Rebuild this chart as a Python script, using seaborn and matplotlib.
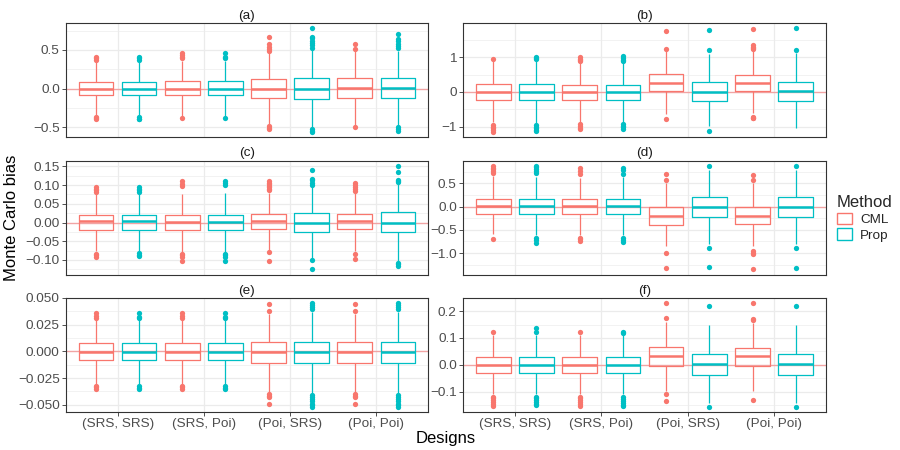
import numpy as np
import pandas as pd
import matplotlib
matplotlib.use("Agg")
import matplotlib.pyplot as plt
from matplotlib.patches import Patch
import seaborn as sns

# Categories
designs = ["(SRS, SRS)", "(SRS, Poi)", "(Poi, SRS)", "(Poi, Poi)"]
methods = ["CML", "Prop"]
panels = ["a", "b", "c", "d", "e", "f"]
colors = {"CML": "#F8766D", "Prop": "#00BFC4"}

# Box statistics, order: design x method
# (SRS,SRS) CML, (SRS,SRS) Prop, (SRS,Poi) CML, ... (Poi,Poi) Prop
q1 = {
    "a": [-0.09, -0.09, -0.09, -0.09, -0.12, -0.13, -0.12, -0.12],
    "b": [-0.23, -0.23, -0.23, -0.23, 0.04, -0.27, 0.02, -0.27],
    "c": [-0.020, -0.020, -0.020, -0.020, -0.018, -0.024, -0.018, -0.026],
    "d": [-0.164, -0.164, -0.164, -0.164, -0.386, -0.229, -0.37, -0.229],
    "e": [-0.0083, -0.0083, -0.0083, -0.0083, -0.0108, -0.0108, -0.0108, -0.0108],
    "f": [-0.028, -0.028, -0.028, -0.028, -0.0025, -0.036, -0.0025, -0.036],
}
med = {
    "a": [0.0, 0.0, 0.0, 0.0, 0.0, -0.005, 0.01, 0.01],
    "b": [0.0, 0.0, 0.0, 0.0, 0.27, 0.01, 0.27, 0.02],
    "c": [0.0035, 0.0035, 0.001, 0.001, 0.0035, 0.0, 0.0035, -0.001],
    "d": [0.007, 0.007, 0.007, 0.007, -0.193, -0.007, -0.193, -0.007],
    "e": [-0.0003, -0.0006, -0.0003, -0.0006, -0.0009, -0.0006, -0.0009, -0.0006],
    "f": [0.0, -0.001, 0.0, -0.001, 0.033, 0.0025, 0.033, 0.0025],
}
q3 = {
    "a": [0.09, 0.09, 0.10, 0.10, 0.12, 0.13, 0.13, 0.13],
    "b": [0.23, 0.23, 0.21, 0.21, 0.52, 0.29, 0.50, 0.29],
    "c": [0.019, 0.019, 0.021, 0.021, 0.022, 0.0245, 0.022, 0.027],
    "d": [0.164, 0.164, 0.164, 0.164, -0.007, 0.207, 0.0, 0.207],
    "e": [0.0074, 0.0074, 0.0074, 0.0074, 0.0083, 0.009, 0.0083, 0.009],
    "f": [0.0295, 0.0295, 0.0295, 0.0295, 0.066, 0.042, 0.064, 0.042],
}
whisker_lo = {
    "a": [-0.34, -0.34, -0.35, -0.35, -0.46, -0.51, -0.47, -0.47],
    "b": [-0.88, -0.90, -0.87, -0.87, -0.64, -0.98, -0.62, -1.05],
    "c": [-0.076, -0.076, -0.079, -0.079, -0.074, -0.094, -0.076, -0.103],
    "d": [-0.60, -0.62, -0.62, -0.62, -0.85, -0.80, -0.85, -0.80],
    "e": [-0.031, -0.031, -0.031, -0.031, -0.038, -0.039, -0.038, -0.039],
    "f": [-0.108, -0.108, -0.108, -0.108, -0.095, -0.14, -0.098, -0.14],
}
whisker_hi = {
    "a": [0.35, 0.35, 0.35, 0.35, 0.47, 0.51, 0.49, 0.49],
    "b": [0.88, 0.90, 0.85, 0.85, 1.20, 1.10, 1.18, 1.12],
    "c": [0.076, 0.076, 0.077, 0.080, 0.080, 0.095, 0.080, 0.104],
    "d": [0.65, 0.64, 0.62, 0.64, 0.50, 0.78, 0.50, 0.78],
    "e": [0.030, 0.030, 0.030, 0.030, 0.035, 0.037, 0.035, 0.037],
    "f": [0.110, 0.112, 0.110, 0.112, 0.160, 0.150, 0.155, 0.150],
}
outliers = {
    "a": [[0.37, 0.39, 0.41, -0.37, -0.38, -0.40],
          [0.37, 0.39, 0.41, -0.37, -0.39, -0.40],
          [0.39, 0.41, 0.43, 0.46, -0.38],
          [0.39, 0.41, 0.46, -0.38],
          [0.49, 0.51, 0.54, 0.57, 0.66, -0.49, -0.51, -0.52],
          [0.53, 0.56, 0.59, 0.62, 0.65, 0.67, 0.78, -0.53, -0.55, -0.56],
          [0.51, 0.58, -0.50],
          [0.52, 0.55, 0.58, 0.61, 0.64, 0.70, -0.50, -0.52, -0.55]],
    "b": [[0.94, -0.94, -1.0, -1.05, -1.1, -1.15],
          [0.94, 0.97, 1.0, -0.94, -1.0, -1.05, -1.1, -1.14],
          [0.88, 0.92, 0.96, 1.0, -0.93, -0.98, -1.03, -1.07],
          [0.88, 0.93, 0.98, 1.03, -0.92, -0.97, -1.02, -1.08],
          [1.25, 1.76, -0.79],
          [1.20, 1.79, -1.12],
          [1.23, 1.27, 1.31, 1.36, 1.82, -0.71, -0.74, -0.76],
          [1.20, 1.84]],
    "c": [[0.082, 0.086, 0.090, 0.095, -0.083, -0.087, -0.091],
          [0.082, 0.086, 0.091, 0.096, -0.082, -0.086, -0.090],
          [0.099, 0.104, 0.110, -0.084, -0.088, -0.093, -0.104],
          [0.100, 0.105, 0.110, -0.083, -0.087, -0.092, -0.104],
          [0.086, 0.090, 0.094, 0.098, 0.102, 0.107, 0.110, -0.080, -0.103],
          [0.101, 0.106, 0.113, 0.117, 0.140, -0.100, -0.125],
          [0.084, 0.090, 0.095, 0.100, 0.105, -0.083, -0.097],
          [0.108, 0.112, 0.115, 0.134, 0.152, -0.109, -0.112, -0.116]],
    "d": [[0.72, 0.76, 0.80, 0.84, 0.88, -0.69],
          [0.72, 0.76, 0.81, 0.86, 0.88, -0.68, -0.72, -0.78],
          [0.71, 0.76, 0.82, -0.67, -0.70, -0.74],
          [0.71, 0.78, 0.83, -0.68, -0.72, -0.76],
          [0.57, 0.70, -0.99, -1.33],
          [0.88, -0.89, -1.31],
          [0.58, 0.69, -0.96, -0.99, -1.01, -1.35],
          [0.87, -0.89, -1.32]],
    "e": [[0.0315, 0.033, 0.0355, -0.0325, -0.0335, -0.035],
          [0.0315, 0.0325, 0.036, -0.0325, -0.034, -0.0355],
          [0.0315, 0.033, 0.0355, -0.0325, -0.0335, -0.035],
          [0.0315, 0.0325, 0.036, -0.0325, -0.034, -0.0355],
          [0.0375, 0.044, -0.040, -0.0415, -0.043, -0.049],
          [0.0395, 0.042, 0.0435, 0.045, -0.041, -0.043, -0.045, -0.047, -0.049, -0.0505, -0.052],
          [0.0375, 0.044, -0.040, -0.0415, -0.043, -0.049],
          [0.0395, 0.042, 0.0435, 0.045, -0.041, -0.043, -0.045, -0.047, -0.049, -0.0505, -0.052]],
    "f": [[0.122, -0.117, -0.123, -0.130, -0.137, -0.145, -0.153],
          [0.122, 0.138, -0.117, -0.123, -0.130, -0.137, -0.145, -0.150],
          [0.122, -0.117, -0.123, -0.130, -0.137, -0.145, -0.153],
          [0.120, 0.123, -0.117, -0.125, -0.133, -0.140, -0.147, -0.153],
          [0.175, 0.228, -0.108, -0.133],
          [0.220, -0.155],
          [0.166, 0.170, 0.229, -0.130],
          [0.220, -0.155]],
}

# Tick values and labels per panel
yticks = {
    "a": [-0.5, 0.0, 0.5],
    "b": [-1, 0, 1],
    "c": [-0.10, -0.05, 0.00, 0.05, 0.10, 0.15],
    "d": [-1.0, -0.5, 0.0, 0.5],
    "e": [-0.050, -0.025, 0.000, 0.025, 0.050],
    "f": [-0.1, 0.0, 0.1, 0.2],
}
ylabels = {
    "a": ["\u22120.5", "0.0", "0.5"],
    "b": ["\u22121", "0", "1"],
    "c": ["\u22120.10", "\u22120.05", "0.00", "0.05", "0.10", "0.15"],
    "d": ["\u22121.0", "\u22120.5", "0.0", "0.5"],
    "e": ["\u22120.050", "\u22120.025", "0.000", "0.025", "0.050"],
    "f": ["\u22120.1", "0.0", "0.1", "0.2"],
}


def panel_frame(p):
    # rebuild a sample whose quartiles / whiskers / outliers match the read stats
    rows = []
    for i in range(8):
        d = designs[i // 2]
        m = methods[i % 2]
        vals = ([whisker_lo[p][i], whisker_hi[p][i]]
                + [q1[p][i]] * 40 + [med[p][i]] * 40 + [q3[p][i]] * 40
                + outliers[p][i])
        rows += [(d, m, v) for v in vals]
    return pd.DataFrame(rows, columns=["Design", "Method", "bias"])


sns.set_style("white")
plt.rcParams["font.family"] = ["Liberation Sans", "DejaVu Sans"]

fig = plt.figure(figsize=(9, 4.5), dpi=100)
W, H = 900, 450
col_x = [(66, 362), (463, 363)]
row_top = [23, 160.5, 298]
row_h = 114

for k, p in enumerate(panels):
    r, c = k // 2, k % 2
    x0, w = col_x[c]
    ax = fig.add_axes([x0 / W, 1 - (row_top[r] + row_h) / H, w / W, row_h / H])
    df = panel_frame(p)
    ax.axhline(0, color="red", alpha=0.3, lw=1.0, zorder=1)
    sns.boxplot(data=df, x="Design", y="bias", hue="Method", order=designs,
                hue_order=methods, palette=colors, fill=False, width=1.0, gap=0.2,
                whis=1.5, linewidth=0.9, showcaps=False,
                medianprops={"linewidth": 1.8},
                flierprops={"marker": "o", "markersize": 3.2},
                legend=False, ax=ax)
    for ln in ax.lines:
        if ln.get_marker() == "o":
            ln.set_markerfacecolor(ln.get_markeredgecolor())
            ln.set_markeredgewidth(0)
            ln.set_markersize(3.8)

    ax.set_xlim(-0.6, 3.6)
    ax.set_yticks(yticks[p])
    ax.set_yticklabels(ylabels[p])
    lo, hi = ax.get_ylim()
    t = yticks[p]
    s = t[1] - t[0]
    minors = [v for v in np.arange(t[0] - s / 2, t[-1] + s, s) if lo <= v <= hi]
    ax.set_yticks(minors, minor=True)
    ax.set_ylim(lo, hi)

    ax.set_axisbelow(True)
    ax.grid(True, which="major", color="#EBEBEB", lw=0.9)
    ax.grid(True, which="minor", axis="y", color="#EBEBEB", lw=0.45)
    for sp in ax.spines.values():
        sp.set_color("#333333")
        sp.set_linewidth(0.8)
    ax.tick_params(which="major", direction="out", length=3, width=0.6,
                   color="#333333", labelcolor="#4D4D4D", labelsize=9.7, pad=1.5)
    ax.tick_params(which="minor", length=0)
    ax.tick_params(axis="y", left=True)
    if r < 2:
        ax.tick_params(axis="x", bottom=False, labelbottom=False)
    else:
        ax.tick_params(axis="x", bottom=True)
    ax.set_xlabel("")
    ax.set_ylabel("")
    ax.set_title(f"({p})", fontsize=9.7, color="#1A1A1A", pad=3)

fig.text(0.013, 0.517, "Monte Carlo bias", rotation=90, ha="center", va="center",
         fontsize=12, color="black")
fig.text(446 / W, 1 - 438 / H, "Designs", ha="center", va="center",
         fontsize=12, color="black")

handles = [Patch(facecolor="white", edgecolor=colors[m], linewidth=1.0, label=m)
           for m in methods]
fig.legend(handles=handles, loc="center left", bbox_to_anchor=(0.93, 0.515),
           frameon=False, title="Method", title_fontsize=12, fontsize=9.7,
           handlelength=1.1, handleheight=0.9, handletextpad=0.6,
           borderaxespad=0, borderpad=0, labelspacing=0.2, alignment="left")

fig.savefig("out.png", dpi=100)
